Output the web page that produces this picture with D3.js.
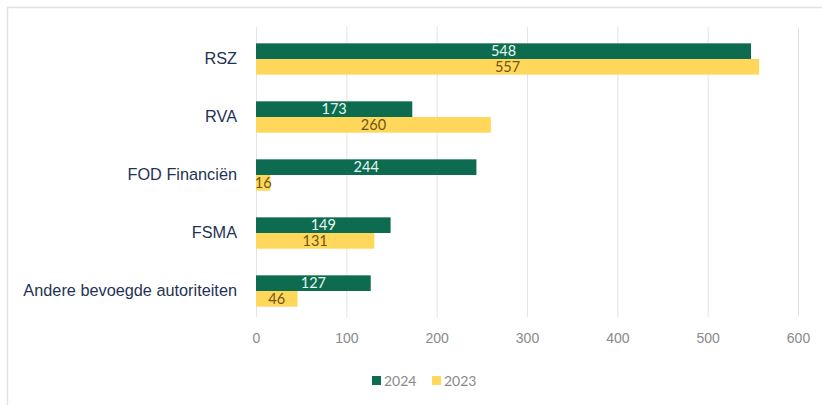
<!DOCTYPE html>
<html>
<head>
<meta charset="utf-8">
<script src="https://cdn.jsdelivr.net/npm/d3@7"></script>
<style>
  body {margin:0; background:#fff}
  svg {display:block; font-family: Lato, "Open Sans", sans-serif}
</style>
</head>
<body>
<svg width="822" height="405"></svg>
<script>
// data
const categories = ["RSZ", "RVA", "FOD Financiën", "FSMA", "Andere bevoegde autoriteiten"]
const series = ["2024", "2023"]
const values2024 = [548, 173, 244, 149, 127]
const values2023 = [557, 260, 16, 131, 46]
const xTicks = [0, 100, 200, 300, 400, 500, 600]

const COLORS = {"2024": "#0d6b4f", "2023": "#ffd75a"}
const LABELCOL = {"2024": "#e6f7f2", "2023": "#6b5614"}

const svg = d3.select("svg")
const W = 822, H = 405
const m = {left: 256, right: 25, top: 30, bottom: 85}

// frame
svg.append("path")
   .attr("d", "M7.5," + H + "V7.5H" + W)
   .attr("fill", "none")
   .attr("stroke", "#e2e2e2")
   .attr("stroke-width", 1.5)

const x = d3.scaleLinear().domain([0, 600]).range([m.left, 798])
const y = d3.scaleBand().domain(categories).range([m.top, H - m.bottom]).paddingInner(0.46).paddingOuter(0.23)
const ys = d3.scaleBand().domain(series).range([0, y.bandwidth()])

// gridlines
svg.append("g")
   .selectAll("line")
   .data(xTicks)
   .enter()
   .append("line")
   .attr("x1", d => x(d) + 0.5)
   .attr("x2", d => x(d) + 0.5)
   .attr("y1", 27)
   .attr("y2", 317)
   .attr("stroke", "#e3e3e3")
   .attr("stroke-width", 1)

// x axis labels
const xAxis = d3.axisBottom(x).tickValues(xTicks).tickSize(0).tickPadding(0)
const gx = svg.append("g").attr("transform", "translate(0,333)").call(xAxis)
gx.select(".domain").remove()
gx.selectAll("text").attr("fill", "#8a8a8a").attr("font-size", 14)

// category labels
const yAxis = d3.axisLeft(y).tickSize(0).tickPadding(19)
const gy = svg.append("g").attr("transform", "translate(" + m.left + ",0)").call(yAxis)
gy.select(".domain").remove()
gy.selectAll("text").attr("fill", "#1f3356").attr("font-size", 16.3)

// bars
const rows = categories.map((c, i) => ({cat: c, vals: [
	{s: "2024", v: values2024[i]},
	{s: "2023", v: values2023[i]}
]}))

const grp = svg.append("g")
               .selectAll("g")
               .data(rows)
               .enter()
               .append("g")
               .attr("transform", d => "translate(0," + y(d.cat) + ")")

grp.selectAll("rect")
   .data(d => d.vals)
   .enter()
   .append("rect")
   .attr("x", x(0))
   .attr("y", d => ys(d.s))
   .attr("width", d => x(d.v) - x(0))
   .attr("height", ys.bandwidth())
   .attr("fill", d => COLORS[d.s])

grp.selectAll("text")
   .data(d => d.vals)
   .enter()
   .append("text")
   .attr("x", d => (x(0) + x(d.v)) / 2)
   .attr("y", d => ys(d.s) + ys.bandwidth() / 2)
   .attr("dy", "0.36em")
   .attr("text-anchor", "middle")
   .attr("font-size", 14.5)
   .attr("fill", d => LABELCOL[d.s])
   .text(d => d.v)

// legend
const leg = svg.append("g").attr("transform", "translate(372,381)")
const items = [{s: "2024", x: 0}, {s: "2023", x: 60}]
items.forEach(it => {
	leg.append("rect")
	   .attr("x", it.x).attr("y", -5)
	   .attr("width", 9).attr("height", 9)
	   .attr("fill", COLORS[it.s])
	leg.append("text")
	   .attr("x", it.x + 12).attr("y", 0)
	   .attr("dy", "0.36em")
	   .attr("font-size", 14)
	   .attr("fill", "#8a8a8a")
	   .text(it.s)
})
</script>
</body>
</html>
